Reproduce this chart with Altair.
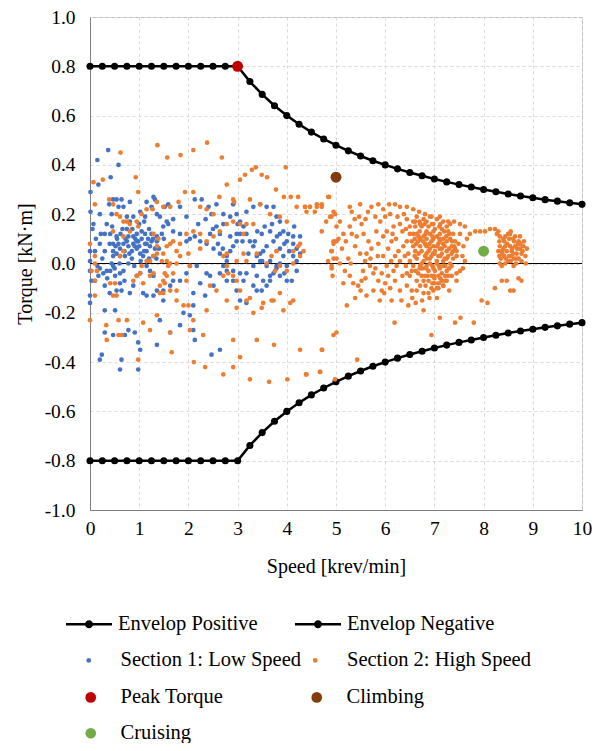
import altair as alt
import pandas as pd

# ---------------- data ----------------
ENV_SPEED = [0, 0.25, 0.5, 0.75, 1, 1.25, 1.5, 1.75, 2, 2.25, 2.5, 2.75, 3,
             3.25, 3.5, 3.75, 4, 4.25, 4.5, 4.75, 5, 5.25, 5.5, 5.75, 6, 6.25,
             6.5, 6.75, 7, 7.25, 7.5, 7.75, 8, 8.25, 8.5, 8.75, 9, 9.25, 9.5,
             9.75, 10]
ENV_POS = [0.8, 0.8, 0.8, 0.8, 0.8, 0.8, 0.8, 0.8, 0.8, 0.8, 0.8, 0.8, 0.8,
           0.738, 0.686, 0.64, 0.6, 0.565, 0.533, 0.505, 0.48, 0.457, 0.436,
           0.417, 0.4, 0.384, 0.369, 0.356, 0.343, 0.331, 0.32, 0.31, 0.3,
           0.291, 0.282, 0.274, 0.267, 0.259, 0.253, 0.246, 0.24]
ENV_NEG = [-v for v in ENV_POS]

SECTION1 = [
    (0.37, 0.46), (0.15, 0.42), (0.58, 0.40), (0.42, 0.35), (0.17, 0.32), (0.01, 0.29),
    (0.01, 0.21), (0.07, 0.16), (0.20, 0.20), (0.34, 0.16), (0.44, 0.20), (0.47, 0.26),
    (0.54, 0.26), (0.64, 0.26), (0.58, 0.23), (0.39, 0.24), (0.68, 0.23), (0.81, 0.25),
    (0.75, 0.19), (0.81, 0.17), (0.88, 0.19), (1.02, 0.21), (1.12, 0.19), (1.29, 0.27),
    (1.32, 0.26), (1.15, 0.25), (1.25, 0.23), (1.36, 0.20), (1.52, 0.23), (1.59, 0.24),
    (1.42, 0.19), (1.56, 0.17), (1.69, 0.18), (1.83, 0.23), (1.96, 0.19), (2.13, 0.26),
    (2.27, 0.26), (2.41, 0.23), (2.47, 0.20), (2.57, 0.24), (2.71, 0.20), (2.85, 0.19),
    (2.91, 0.24), (2.98, 0.20), (3.05, 0.17), (3.18, 0.21), (3.32, 0.23), (3.46, 0.24),
    (3.59, 0.23), (3.73, 0.23), (3.79, 0.19), (3.86, 0.17), (3.93, 0.13), (4.03, 0.12),
    (4.13, 0.11), (4.27, 0.11), (4.13, 0.08), (4.20, 0.06), (4.13, 0.03), (3.86, 0.00),
    (3.79, -0.01), (3.73, -0.04), (3.66, -0.07), (3.59, -0.01), (3.46, 0.01), (3.39, 0.03),
    (3.32, 0.07), (3.25, 0.09), (3.18, 0.12), (3.12, 0.15), (3.05, 0.12), (2.98, 0.09),
    (2.91, 0.07), (2.85, 0.05), (2.78, 0.03), (2.78, 0.01), (2.71, -0.01), (2.64, -0.04),
    (2.78, -0.07), (2.91, -0.07), (2.98, -0.11), (3.05, -0.15), (3.18, -0.16), (3.32, -0.09),
    (3.39, -0.11), (3.49, -0.11), (3.59, -0.09), (3.79, -0.02), (4.00, -0.07), (4.10, -0.07),
    (4.20, -0.03), (3.86, 0.12), (3.73, 0.09), (3.59, 0.07), (3.46, 0.04), (3.32, -0.01),
    (3.18, -0.04), (3.05, -0.04), (2.91, -0.03), (2.78, -0.03), (2.64, 0.04), (2.51, 0.06),
    (2.37, 0.08), (2.24, 0.09), (2.13, 0.11), (2.03, 0.10), (1.96, 0.09), (1.83, 0.12),
    (1.69, 0.13), (1.59, 0.16), (1.49, 0.15), (1.46, 0.12), (1.36, 0.11), (1.25, 0.09),
    (1.15, 0.08), (1.12, 0.12), (1.05, 0.13), (0.95, 0.12), (0.88, 0.11), (0.88, 0.08),
    (0.95, 0.06), (1.02, 0.04), (1.08, 0.03), (1.15, 0.05), (1.22, 0.07), (1.29, 0.03),
    (1.36, 0.09), (0.98, 0.09), (0.91, 0.07), (0.85, 0.05), (0.78, 0.07), (0.75, 0.09),
    (0.68, 0.08), (0.61, 0.06), (0.54, 0.04), (0.47, 0.03), (0.44, 0.00), (0.47, -0.01),
    (0.41, -0.03), (0.34, -0.03), (0.27, -0.04), (0.17, -0.05), (0.10, -0.07), (0.03, -0.07),
    (0.00, -0.03), (0.00, 0.01), (0.00, 0.05), (0.10, 0.05), (0.20, 0.08), (0.30, 0.12),
    (0.41, 0.12), (0.47, 0.08), (0.54, 0.11), (0.58, 0.08), (0.47, 0.05), (0.61, 0.03),
    (0.71, 0.03), (0.78, 0.00), (0.68, -0.03), (0.61, -0.04), (0.51, -0.05), (0.61, -0.08),
    (0.54, -0.11), (0.64, -0.11), (0.81, -0.12), (0.88, -0.09), (0.95, -0.05), (1.02, -0.04),
    (1.15, -0.01), (1.22, -0.03), (1.29, -0.05), (1.08, -0.12), (1.15, -0.13), (1.29, -0.13),
    (1.36, -0.11), (1.49, -0.11), (1.63, -0.09), (1.69, -0.07), (1.83, -0.07), (1.96, -0.04),
    (2.03, -0.01), (2.17, -0.01), (2.37, -0.04), (2.44, -0.05), (2.51, -0.09), (2.34, -0.13),
    (2.10, -0.17), (1.90, -0.20), (2.03, -0.21), (1.49, -0.15), (1.42, -0.23), (1.63, -0.28),
    (1.83, -0.25), (2.10, -0.27), (2.13, -0.31), (1.36, -0.33), (0.98, -0.32), (1.02, -0.35),
    (0.91, -0.28), (0.78, -0.27), (0.71, -0.29), (0.47, -0.29), (0.30, -0.28), (0.24, -0.37),
    (0.20, -0.39), (0.64, -0.39), (0.61, -0.43), (0.98, -0.43), (0.51, -0.19), (0.30, -0.19),
    (0.00, -0.13), (0.00, -0.16), (2.47, -0.37), (2.64, -0.35), (2.10, -0.12), (2.24, -0.08),
    (2.64, 0.12), (2.57, 0.15), (2.44, 0.12), (2.71, 0.16), (2.98, 0.12), (3.12, -0.07),
    (3.39, -0.05), (3.52, -0.07), (3.66, -0.05), (3.86, -0.05), (4.00, -0.01), (3.93, 0.03),
    (3.66, 0.01), (3.52, 0.05), (3.35, 0.09), (3.49, 0.12), (3.66, 0.13), (4.00, 0.09),
    (4.27, 0.04), (4.20, 0.01), (3.86, 0.06),
    (0.55, 0.10), (0.62, 0.12), (0.70, 0.05), (0.78, 0.11), (0.85, 0.02), (0.92, 0.10),
    (1.00, 0.07), (1.05, 0.10), (1.10, 0.05), (1.18, 0.10), (1.25, 0.12), (1.32, 0.06),
    (0.40, 0.08), (0.30, 0.05), (0.25, 0.02), (0.20, -0.02), (0.35, -0.06), (0.50, -0.02),
    (0.60, 0.00), (0.90, -0.01), (1.20, 0.02), (1.40, 0.06), (1.50, 0.10), (0.12, 0.10),
    (0.05, 0.14),
    (0.45, 0.15), (0.52, 0.07), (0.66, 0.14), (0.72, 0.10), (0.80, 0.04), (0.86, 0.14),
    (0.95, 0.09), (1.03, 0.01), (1.12, 0.08), (1.20, 0.14), (1.28, 0.10), (1.35, 0.02),
    (0.30, -0.09), (0.40, -0.12), (0.15, -0.01), (0.22, 0.12), (0.70, -0.07), (0.75, 0.14),
    (1.00, 0.16), (1.10, 0.17), (2.20, 0.16), (2.35, 0.18), (2.50, 0.14), (2.60, 0.08),
    (2.70, 0.06), (2.85, 0.11), (3.00, 0.16), (3.10, 0.09), (3.22, 0.04), (3.40, 0.13),
    (3.55, 0.15), (3.70, 0.16), (3.80, 0.11), (3.95, 0.08), (4.05, 0.05), (4.15, 0.15),
    (3.95, -0.04), (3.50, 0.01),
]

SECTION2 = [
    # low-speed scatter
    (1.37, 0.48), (1.57, 0.43), (1.84, 0.44), (2.10, 0.46), (2.38, 0.49), (2.68, 0.43),
    (0.62, 0.45), (0.93, 0.35), (0.98, 0.29), (0.26, 0.34), (0.07, 0.33), (0.10, 0.24),
    (0.39, 0.26), (0.47, 0.24), (0.54, 0.20), (0.61, 0.19), (0.68, 0.17), (0.75, 0.17),
    (0.81, 0.16), (0.95, 0.17), (1.05, 0.20), (1.15, 0.22), (1.27, 0.22), (1.36, 0.25),
    (1.49, 0.23), (1.63, 0.23), (1.80, 0.25), (1.93, 0.29), (2.10, 0.29), (2.24, 0.23),
    (2.37, 0.22), (2.51, 0.20), (2.63, 0.27), (2.78, 0.32), (2.91, 0.26), (2.93, 0.25),
    (3.05, 0.34), (3.15, 0.36), (3.29, 0.38), (3.37, 0.39), (3.49, 0.36), (3.60, 0.35),
    (3.78, 0.30), (3.94, 0.27), (4.08, 0.27), (4.23, 0.27), (3.98, 0.39), (3.25, 0.26),
    (3.46, 0.24), (3.66, 0.20), (3.86, 0.19), (4.00, 0.17), (4.20, 0.23), (4.37, 0.23),
    (4.47, 0.23), (4.61, 0.24), (4.71, 0.24), (4.84, 0.27), (4.95, 0.21), (4.88, 0.19),
    (4.71, 0.13), (5.01, 0.15), (5.01, 0.09), (4.95, 0.08), (4.91, 0.05), (5.01, 0.02),
    (4.91, -0.02), (4.84, 0.01), (4.27, 0.08), (4.34, 0.05), (4.27, 0.03), (4.13, 0.00),
    (4.00, -0.03), (3.86, -0.01), (3.76, -0.03), (3.86, -0.12), (4.07, -0.16), (3.73, -0.15),
    (3.49, -0.18), (3.32, -0.20), (3.18, -0.15), (3.05, -0.11), (2.98, -0.07), (2.91, -0.05),
    (2.78, 0.04), (2.71, 0.03), (2.78, -0.01), (2.81, -0.04), (2.98, 0.01), (3.12, 0.04),
    (3.12, 0.12), (3.05, 0.16), (3.18, 0.16), (3.32, 0.16), (2.91, 0.17), (2.78, 0.16),
    (2.64, 0.13), (2.51, 0.11), (2.37, 0.09), (2.24, 0.06), (2.24, 0.12), (2.10, 0.13),
    (1.96, 0.12), (1.83, 0.08), (1.76, 0.05), (1.69, 0.09), (1.63, 0.08), (1.56, 0.07),
    (1.49, 0.04), (1.56, 0.01), (1.63, 0.00), (1.59, -0.01), (1.52, -0.04), (1.46, 0.01),
    (1.36, 0.04), (1.29, 0.03), (1.22, 0.01), (1.15, 0.01), (1.05, -0.01), (1.02, -0.04),
    (0.95, -0.05), (0.88, -0.07), (1.08, -0.08), (1.22, -0.05), (1.29, -0.04), (1.42, -0.12),
    (1.42, -0.09), (1.52, -0.08), (1.63, -0.11), (1.76, -0.15), (1.96, -0.07), (2.03, -0.01),
    (2.00, 0.04), (1.83, 0.03), (1.76, 0.00), (1.69, -0.04), (1.56, -0.05), (1.49, -0.12),
    (1.36, -0.21), (1.08, -0.24), (1.22, -0.27), (0.75, -0.23), (0.58, -0.23), (0.47, -0.13),
    (0.54, -0.13), (0.41, -0.08), (0.51, -0.08), (0.10, -0.13), (0.00, -0.23), (0.10, -0.07),
    (0.10, 0.00), (0.10, 0.03), (0.00, 0.08), (0.03, -0.03), (0.14, -0.03), (0.61, 0.03),
    (0.68, 0.05), (0.47, 0.13), (0.68, 0.11), (0.81, 0.13), (0.98, 0.15), (1.29, 0.12),
    (1.39, 0.10), (1.36, 0.07), (1.90, -0.17), (2.00, -0.17), (2.10, -0.23), (2.30, -0.29),
    (2.37, -0.19), (2.78, -0.15), (2.98, -0.18), (3.25, -0.14), (3.52, -0.16), (3.69, -0.15),
    (3.93, -0.19), (4.13, -0.15), (0.64, -0.29), (0.58, -0.29), (0.34, -0.31), (0.33, -0.25),
    (0.98, -0.39), (1.66, -0.36), (2.11, -0.40), (2.34, -0.42), (2.71, -0.45), (2.91, -0.42),
    (3.05, -0.38), (3.25, -0.47), (3.39, -0.31), (3.64, -0.48), (3.74, -0.33), (4.01, -0.47),
    (4.27, -0.35), (4.40, -0.45), (4.67, -0.44), (4.72, -0.35), (5.01, -0.28), (4.98, -0.47),
    (1.63, -0.28), (2.91, -0.31), (2.03, -0.27), (1.49, -0.07), (1.76, -0.11), (2.44, -0.09),
    (2.57, -0.11), (2.71, -0.05), (3.18, 0.01), (3.39, 0.04), (3.59, 0.00), (3.69, 0.03),
    (3.79, 0.05), (4.13, 0.05), (4.23, 0.07),
    # high-speed ring
    (4.37, 0.23), (4.47, 0.23), (4.61, 0.23), (4.71, 0.23), (4.40, 0.21), (4.57, 0.21),
    (4.86, 0.27), (4.80, 0.17), (4.91, 0.19), (4.98, 0.20), (5.08, 0.17), (5.28, 0.23),
    (5.32, 0.21), (5.49, 0.24), (5.47, 0.19), (5.52, 0.16), (5.72, 0.23), (5.86, 0.24),
    (5.96, 0.22), (6.08, 0.24), (6.20, 0.24), (6.30, 0.23), (6.44, 0.23), (6.57, 0.22),
    (6.69, 0.21), (6.81, 0.20), (6.94, 0.19), (7.11, 0.19), (7.28, 0.17), (7.40, 0.17),
    (7.52, 0.16), (7.62, 0.15), (7.72, 0.12), (7.83, 0.13), (7.93, 0.13), (8.03, 0.13),
    (8.13, 0.14), (8.23, 0.14), (8.30, 0.13), (7.66, 0.10), (7.59, 0.07), (7.57, 0.03),
    (5.28, 0.15), (5.15, 0.12), (4.95, 0.09), (4.91, 0.05), (4.95, 0.02), (4.91, -0.01),
    (4.93, -0.05), (5.08, 0.00), (5.18, -0.03), (5.28, -0.05), (5.35, -0.08), (5.45, -0.09),
    (5.52, -0.07), (5.39, -0.14), (5.22, -0.17), (5.62, -0.13), (5.76, -0.11), (5.89, -0.15),
    (5.93, -0.11), (5.86, -0.07), (5.76, -0.04), (5.69, -0.01), (5.59, 0.01), (5.49, 0.04),
    (5.39, 0.07), (5.42, 0.11), (5.56, 0.12), (5.66, 0.09), (5.72, 0.06), (5.86, 0.08),
    (5.96, 0.11), (6.03, 0.13), (6.17, 0.15), (6.30, 0.16), (6.44, 0.18), (6.13, 0.09),
    (6.06, 0.06), (5.96, 0.03), (6.03, -0.01), (5.93, -0.04), (6.06, -0.05), (6.17, -0.03),
    (6.23, -0.01), (6.30, 0.01), (6.40, 0.03), (6.37, 0.07), (6.44, 0.09), (6.27, 0.05),
    (6.57, 0.12), (6.50, 0.15), (6.61, 0.17), (6.71, 0.16), (6.13, -0.15), (6.33, -0.15),
    (6.47, -0.17), (6.30, -0.11), (6.44, -0.09), (6.54, -0.11), (6.64, -0.11), (6.71, -0.09),
    (6.78, -0.12), (6.88, -0.12), (6.98, -0.11), (7.08, -0.10), (7.18, -0.09), (7.25, -0.07),
    (7.35, -0.05), (7.45, -0.04), (7.52, -0.03), (6.78, -0.19), (7.11, -0.22), (7.42, -0.24),
    (7.53, -0.22), (7.80, -0.24), (6.94, -0.29), (7.96, -0.15), (8.08, -0.16), (8.23, -0.10),
    (8.37, -0.07), (8.47, -0.07), (8.54, -0.11), (8.61, -0.11), (8.71, -0.06), (8.77, -0.07),
    (6.19, -0.24), (4.95, -0.29), (4.71, -0.35), (5.43, -0.39), (4.39, -0.45), (4.68, -0.44),
    (5.05, 0.10), (5.12, 0.06), (5.20, 0.09), (5.25, 0.02), (5.32, 0.12), (5.38, 0.18),
    (5.60, 0.18), (5.65, 0.21), (5.80, 0.19), (5.82, 0.13), (5.90, 0.17), (6.00, 0.19),
    (6.10, 0.20), (6.15, 0.12), (6.22, 0.10), (6.25, 0.19), (6.35, 0.13), (6.38, 0.20),
    (6.42, 0.14), (5.55, -0.03), (5.62, 0.04), (5.70, 0.02), (5.80, -0.02), (5.85, 0.03),
    (6.00, -0.08), (6.10, -0.10), (6.20, -0.07), (6.35, -0.05), (6.42, -0.01), (6.20, 0.03),
    (6.12, 0.01), (5.98, -0.12), (5.50, -0.11), (5.60, -0.06), (5.30, 0.00), (5.15, -0.08),
    (6.55, -0.14), (6.62, -0.16), (6.75, -0.15), (6.90, -0.14), (7.05, -0.14), (7.30, -0.11),
    (7.45, -0.07), (7.58, -0.02), (7.62, 0.01),
    # dense cluster near 7 krev/min
    (6.64, 0.19), (6.78, 0.18), (6.91, 0.19), (7.05, 0.18), (7.18, 0.17), (7.32, 0.16),
    (6.61, 0.15), (6.74, 0.15), (6.88, 0.15), (7.01, 0.14), (7.15, 0.14), (7.28, 0.13),
    (7.38, 0.12), (6.64, 0.12), (6.78, 0.11), (6.91, 0.12), (7.05, 0.11), (7.18, 0.10),
    (7.32, 0.10), (7.42, 0.09), (6.67, 0.09), (6.81, 0.08), (6.94, 0.09), (7.08, 0.08),
    (7.21, 0.07), (7.35, 0.07), (7.45, 0.05), (6.61, 0.05), (6.74, 0.05), (6.88, 0.05),
    (7.01, 0.05), (7.15, 0.04), (7.28, 0.03), (7.38, 0.02), (6.64, 0.02), (6.78, 0.01),
    (6.91, 0.02), (7.05, 0.01), (7.18, 0.01), (7.32, 0.00), (6.57, -0.01), (6.71, -0.01),
    (6.84, -0.01), (6.98, -0.02), (7.11, -0.02), (7.25, -0.03), (6.67, -0.04), (6.81, -0.05),
    (6.94, -0.05), (7.08, -0.05), (6.88, -0.07), (7.01, -0.08), (7.15, -0.07), (6.84, 0.13),
    (6.98, 0.13), (7.11, 0.12), (6.71, 0.07), (6.84, 0.07), (6.98, 0.07), (7.11, 0.06),
    (7.25, 0.05), (6.81, 0.03), (6.94, 0.03), (7.08, 0.03), (7.21, 0.02), (6.71, 0.10),
    (6.84, 0.10), (6.98, 0.10), (7.11, 0.09), (7.25, 0.09), (6.91, 0.00), (7.05, 0.00),
    (7.18, -0.01), (6.74, 0.00), (6.88, -0.03), (7.01, -0.03), (7.15, -0.04), (6.78, -0.07),
    (6.64, -0.07), (6.50, -0.05), (6.44, -0.04), (6.54, -0.03), (6.50, 0.01), (6.47, 0.04),
    (6.57, 0.07), (6.54, 0.09), (6.50, 0.12), (6.57, 0.17), (7.38, 0.05), (7.45, 0.03),
    (7.49, 0.08), (7.52, 0.12), (7.35, -0.01), (7.28, -0.05), (7.18, -0.09), (7.05, -0.10),
    (6.94, -0.10), (6.70, 0.13), (6.95, 0.16), (7.20, 0.13), (6.75, -0.02), (7.00, -0.06),
    (7.22, -0.05), (6.60, 0.03), (7.40, 0.07), (6.90, 0.08), (7.10, 0.15), (7.30, 0.12),
    (6.80, 0.16), (7.00, 0.04), (7.15, 0.06), (6.85, 0.02),
    (6.70, 0.17), (6.84, 0.17), (6.98, 0.16), (7.12, 0.16), (7.25, 0.15), (6.68, 0.11),
    (6.82, 0.12), (6.96, 0.11), (7.10, 0.10), (7.24, 0.11), (7.36, 0.09), (6.63, 0.08),
    (6.77, 0.09), (6.91, 0.06), (7.05, 0.07), (7.18, 0.08), (7.30, 0.06), (7.42, 0.06),
    (6.68, 0.04), (6.84, 0.04), (6.97, 0.04), (7.12, 0.03), (7.25, 0.02), (7.35, 0.04),
    (6.70, -0.02), (6.83, -0.02), (6.96, -0.01), (7.09, -0.01), (7.22, -0.01), (7.30, -0.02),
    (6.74, -0.05), (6.86, -0.05), (6.99, -0.05), (7.12, -0.06), (7.22, -0.07), (6.82, -0.09),
    (6.96, -0.08), (7.09, -0.08), (6.60, 0.10), (6.62, -0.03),
    # cluster near 8.5 krev/min
    (8.33, 0.11), (8.44, 0.11), (8.54, 0.12), (8.64, 0.11), (8.74, 0.11), (8.82, 0.09),
    (8.32, 0.09), (8.42, 0.09), (8.52, 0.10), (8.62, 0.09), (8.71, 0.09), (8.81, 0.07),
    (8.33, 0.07), (8.44, 0.07), (8.54, 0.07), (8.64, 0.07), (8.74, 0.06), (8.88, 0.06),
    (8.37, 0.05), (8.47, 0.05), (8.57, 0.05), (8.67, 0.04), (8.77, 0.04), (8.32, 0.03),
    (8.42, 0.03), (8.52, 0.03), (8.62, 0.02), (8.71, 0.02), (8.33, 0.00), (8.44, 0.00),
    (8.55, 0.01), (8.66, 0.00), (8.77, 0.01), (8.86, 0.00), (8.27, 0.12), (8.55, 0.13),
    (8.37, -0.01), (8.61, -0.01), (8.48, 0.08), (8.58, 0.06), (8.38, 0.04), (8.68, 0.06),
    (8.50, 0.01), (8.30, 0.05), (8.40, 0.10), (8.50, 0.12), (8.60, 0.10), (8.70, 0.08),
    (8.79, 0.05), (8.35, 0.02), (8.45, 0.02), (8.56, 0.03), (8.66, 0.02), (8.75, 0.08),
    (8.85, 0.03), (8.40, 0.06), (8.60, 0.04),
]

PEAK = [(3.0, 0.8)]
CLIMBING = [(5.0, 0.35)]
CRUISING = [(8.0, 0.05)]

ENV_SERIES = ["Envelop Positive", "Envelop Negative"]
SEC_SERIES = ["Section 1: Low Speed", "Section 2: High Speed"]
SEC_COLORS = ["#4472C4", "#ED7D31"]
OP_SERIES = ["Peak Torque", "Climbing", "Cruising"]
OP_COLORS = ["#C00000", "#843C0C", "#70AD47"]

X_TICKS = list(range(0, 11))
Y_TICKS = [-1.0, -0.8, -0.6, -0.4, -0.2, 0.0, 0.2, 0.4, 0.6, 0.8, 1.0]

# ---------------- frames ----------------
env = pd.concat([
    pd.DataFrame({"speed": ENV_SPEED, "torque": ENV_POS, "series": ENV_SERIES[0]}),
    pd.DataFrame({"speed": ENV_SPEED, "torque": ENV_NEG, "series": ENV_SERIES[1]}),
])


def frame(pairs, name):
    return pd.DataFrame({"speed": [p[0] for p in pairs],
                         "torque": [p[1] for p in pairs], "series": name})


s1 = frame(SECTION1, SEC_SERIES[0])
s2 = frame(SECTION2, SEC_SERIES[1])
ops = pd.concat([frame(PEAK, OP_SERIES[0]), frame(CLIMBING, OP_SERIES[1]),
                 frame(CRUISING, OP_SERIES[2])])

FONT = "Liberation Serif"
LFS = 20.5

xenc = alt.X("speed:Q", scale=alt.Scale(domain=[0, 10], nice=False),
             axis=alt.Axis(values=X_TICKS, title="Speed [krev/min]", format="d",
                           grid=True, gridDash=[3, 3], gridColor="#d9d9d9",
                           ticks=False, domainColor="#7f7f7f", labelPadding=9,
                           labelFlush=False, titlePadding=19))
yenc = alt.Y("torque:Q", scale=alt.Scale(domain=[-1, 1], nice=False),
             axis=alt.Axis(values=Y_TICKS, title="Torque [kN·m]",
                           labelExpr="replace(format(datum.value, '.1f'), '\u2212', '-')",
                           grid=True, gridDash=[3, 3], gridColor="#d9d9d9",
                           ticks=False, domainColor="#7f7f7f", labelPadding=15,
                           labelFlush=False, titlePadding=9))

ENV_PATH = ("M-1,-0.055L-0.15,-0.055L-0.15,0.055L-1,0.055Z "
            "M0.15,-0.055L1,-0.055L1,0.055L0.15,0.055Z "
            "M0.175,0A0.175,0.175 0 1,1 -0.175,0A0.175,0.175 0 1,1 0.175,0Z")

common = dict(title=None, orient="none", columns=2, direction="horizontal",
              symbolStrokeWidth=0, labelFont=FONT, labelFontSize=LFS,
              labelColor="#000000", labelLimit=400, padding=0)

env_legend = alt.Legend(legendX=-24, legendY=584, columnPadding=37,
                        symbolType=ENV_PATH, symbolSize=2116, labelOffset=6,
                        **common)
sec_legend = alt.Legend(legendX=-11.5, legendY=633, columnPadding=3.5,
                        symbolType="circle", symbolSize=22, labelOffset=21.5,
                        **common)
op_legend = alt.Legend(legendX=-9.5, legendY=670, columnPadding=83,
                       rowPadding=15, symbolType="circle", symbolSize=113,
                       labelOffset=19.5, **common)

zero = alt.Chart(pd.DataFrame({"torque": [0.0]})).mark_rule(
    color="#000000", strokeWidth=1.2).encode(y=alt.Y("torque:Q"))

lines = alt.Chart(env).mark_line(color="#000000", strokeWidth=2.5).encode(
    x=xenc, y=yenc, detail="series:N")
env_pts = alt.Chart(env).mark_circle(size=50, opacity=1).encode(
    x=xenc, y=yenc,
    color=alt.Color("series:N", scale=alt.Scale(domain=ENV_SERIES,
                                                range=["#000000", "#000000"]),
                    legend=env_legend))

sec_color = alt.Color("series:N", scale=alt.Scale(domain=SEC_SERIES, range=SEC_COLORS),
                      legend=sec_legend)
sec1 = alt.Chart(s1).mark_circle(size=22, opacity=1).encode(x=xenc, y=yenc, color=sec_color)
sec2 = alt.Chart(s2).mark_circle(size=22, opacity=1).encode(x=xenc, y=yenc, color=sec_color)
sections = alt.layer(sec1, sec2)

op_pts = alt.Chart(ops).mark_circle(size=120, opacity=1).encode(
    x=xenc, y=yenc,
    color=alt.Color("series:N", scale=alt.Scale(domain=OP_SERIES, range=OP_COLORS),
                    legend=op_legend))

chart = alt.layer(lines, env_pts, zero, sections, op_pts).resolve_scale(
    color="independent"
).properties(
    width=492, height=493,
    background="#ffffff",
    autosize=alt.AutoSizeParams(type="none"),
    padding={"left": 82, "top": 9, "right": 16, "bottom": 233},
).configure_view(stroke="#bfbfbf", strokeWidth=1).configure_axis(
    labelFont=FONT, labelFontSize=19.5, labelColor="#000000",
    titleFont=FONT, titleFontSize=20, titleFontWeight="normal", titleColor="#000000",
)

chart.save("out.html", embed_options={"renderer": "svg", "actions": False})
